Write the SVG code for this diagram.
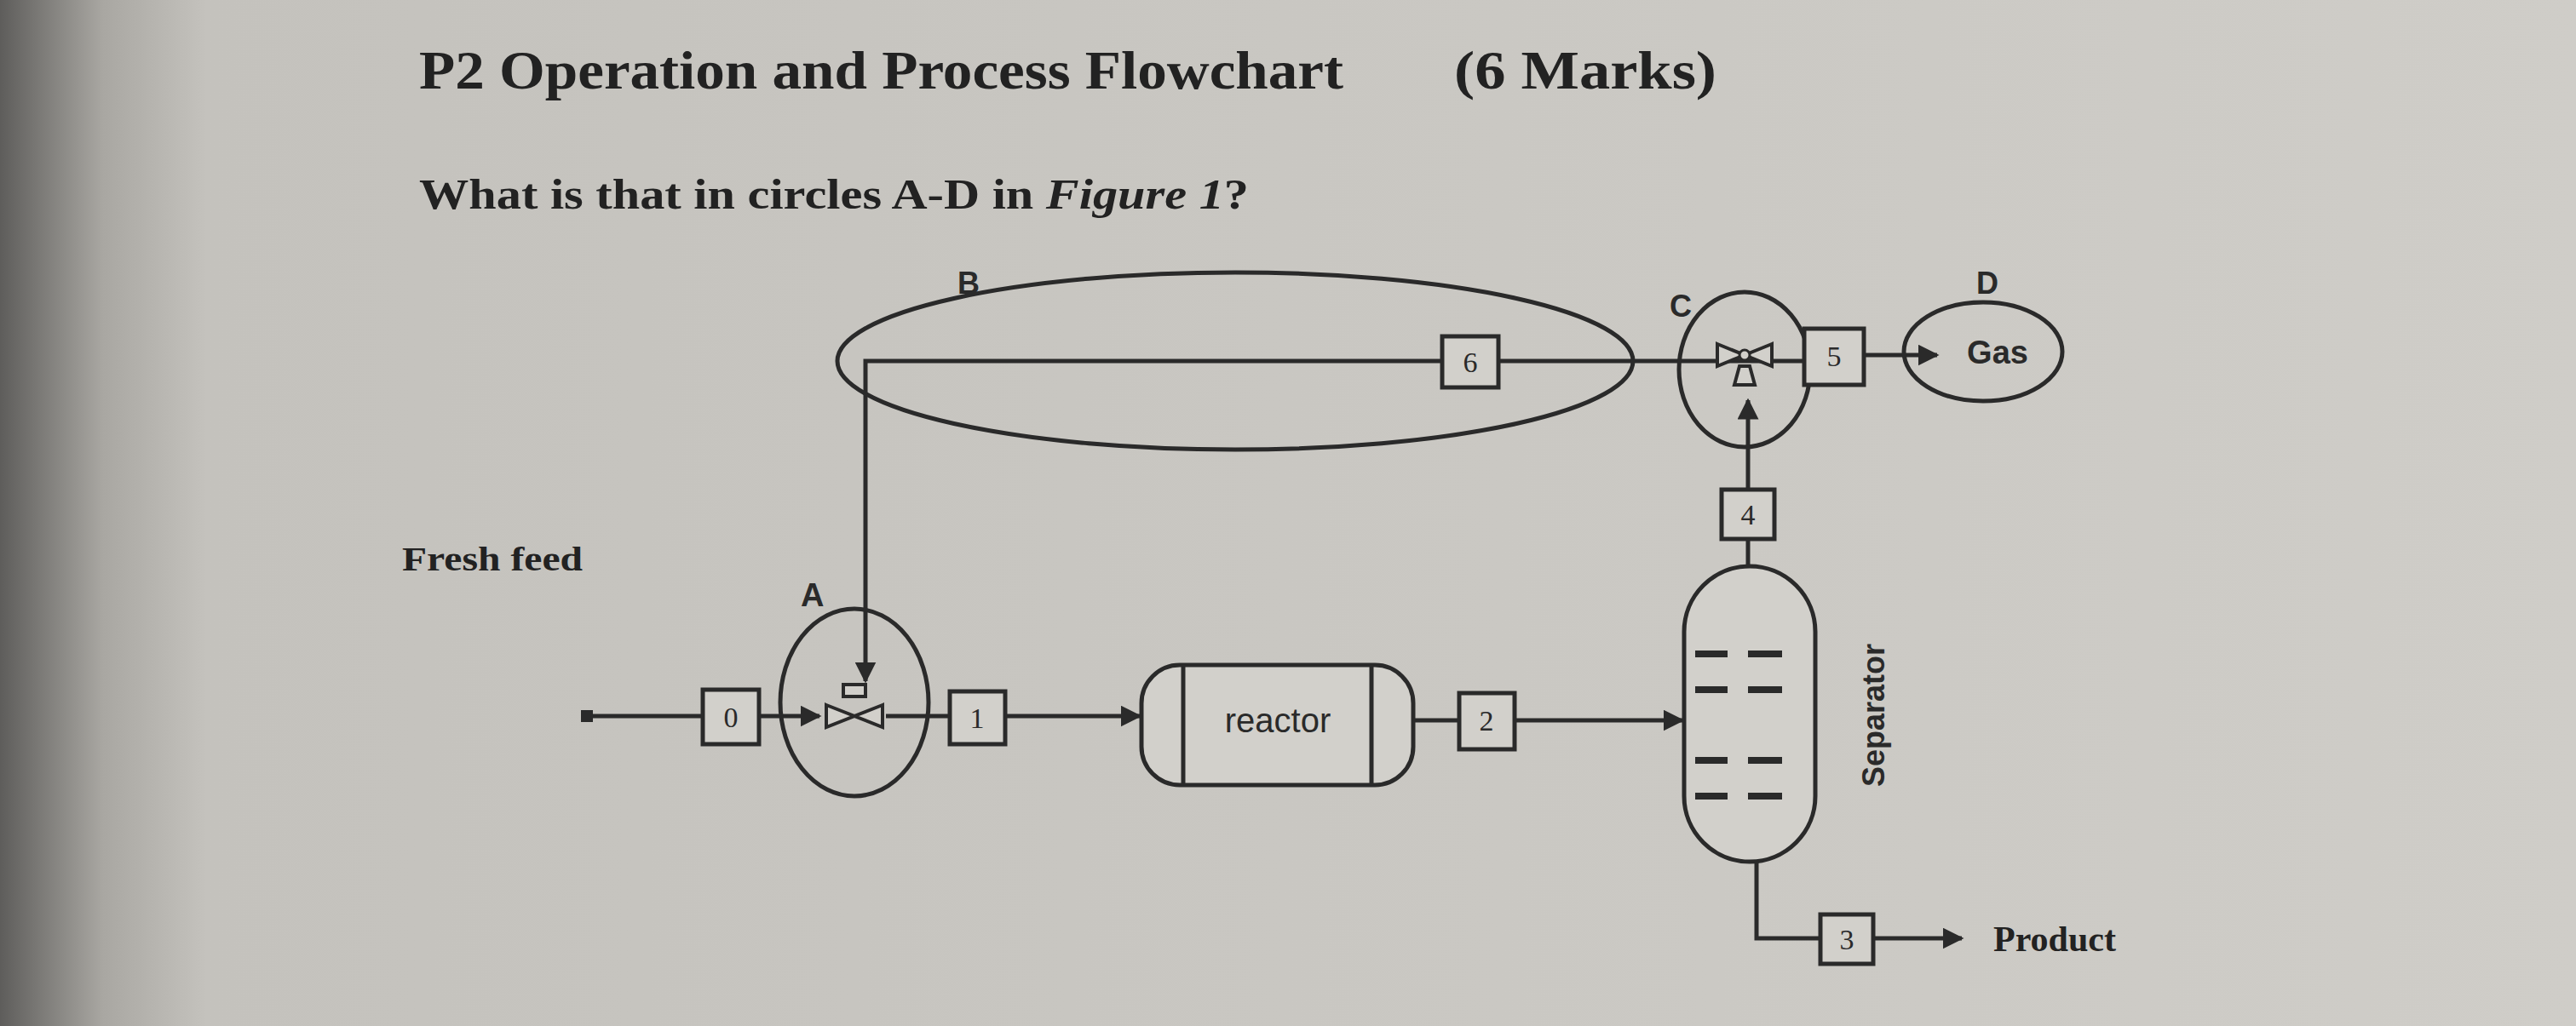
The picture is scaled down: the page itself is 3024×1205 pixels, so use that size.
<svg xmlns="http://www.w3.org/2000/svg" width="3024" height="1205" viewBox="0 0 3024 1205">
<defs>
<marker id="ah" viewBox="0 0 10 10" refX="9" refY="5" markerWidth="5" markerHeight="5" orient="auto"><path d="M0,0 L10,5 L0,10 z" fill="#2a2a2a"/></marker>
<linearGradient id="bg" x1="0" y1="0" x2="1" y2="0"><stop offset="0" stop-color="#5e5d5b"/><stop offset="0.04" stop-color="#a9a7a2"/><stop offset="0.08" stop-color="#c4c2bd"/><stop offset="1" stop-color="#cfcdc8"/></linearGradient>
</defs>
<style>
.ln{stroke:#2a2a2a;stroke-width:5;fill:none}
.bx{stroke:#2a2a2a;stroke-width:5;fill:#d2d0cb}
.n{font-family:"Liberation Serif",serif;font-size:34px;fill:#2a2a2a;text-anchor:middle}
.s{font-family:"Liberation Sans",sans-serif;fill:#2a2a2a}
.t{font-family:"Liberation Serif",serif;font-weight:bold;fill:#222}
</style>
<rect width="3024" height="1205" fill="url(#bg)"/>
<text class="t" x="492" y="104" font-size="64" textLength="1085" lengthAdjust="spacingAndGlyphs">P2 Operation and Process Flowchart</text>
<text class="t" x="1707" y="104" font-size="64" textLength="308" lengthAdjust="spacingAndGlyphs">(6 Marks)</text>
<text class="t" x="492" y="245" font-size="50" textLength="974" lengthAdjust="spacingAndGlyphs">What is that in circles A-D in <tspan font-style="italic">Figure 1</tspan>?</text>
<text class="t" x="472" y="670" font-size="40" font-weight="normal" textLength="212" lengthAdjust="spacingAndGlyphs">Fresh feed</text>
<g id="connectors">
<path class="ln" d="M1693,424 H1016 V800" marker-end="url(#ah)"/>
<path class="ln" d="M1759,424 H2118"/>
<path class="ln" d="M689,841 H825"/>
<path class="ln" d="M891,841 H962" marker-end="url(#ah)"/>
<path class="ln" d="M1040,841 H1115"/>
<path class="ln" d="M1180,841 H1338" marker-end="url(#ah)"/>
<path class="ln" d="M1659,846 H1713"/>
<path class="ln" d="M1778,846 H1975" marker-end="url(#ah)"/>
<path class="ln" d="M2052,665 V633"/>
<path class="ln" d="M2052,575 V470" marker-end="url(#ah)"/>
<path class="ln" d="M2189,417 H2274" marker-end="url(#ah)"/>
<path class="ln" d="M2062,1012 V1102 H2137"/>
<path class="ln" d="M2199,1102 H2303" marker-end="url(#ah)"/>
</g>
<rect x="682" y="834" width="14" height="14" fill="#2a2a2a"/>
<g id="B"><ellipse class="ln" cx="1450" cy="424" rx="467" ry="104"/><text class="s" x="1124" y="345" font-size="36" font-weight="bold">B</text></g>
<g id="box6"><rect class="bx" x="1693" y="395" width="66" height="60"/><text class="n" x="1726" y="437">6</text></g>
<g id="A"><ellipse class="ln" cx="1003" cy="825" rx="87" ry="110"/><text class="s" x="940" y="712" font-size="38" font-weight="bold">A</text>
<path d="M970,828 L1003,841 L970,854 z M1036,828 L1003,841 L1036,854 z M990,818 h26 v-14 h-26 z" fill="#d2d0cb" stroke="#2a2a2a" stroke-width="4"/></g>
<g id="box0"><rect class="bx" x="825" y="810" width="66" height="64"/><text class="n" x="858" y="854">0</text></g>
<g id="box1"><rect class="bx" x="1115" y="812" width="65" height="62"/><text class="n" x="1147" y="855">1</text></g>
<g id="reactor"><rect class="bx" x="1340" y="781" width="319" height="141" rx="45"/><path class="ln" d="M1389,781 V922 M1610,781 V922"/><text class="s" x="1500" y="860" font-size="40" text-anchor="middle">reactor</text></g>
<g id="box2"><rect class="bx" x="1713" y="814" width="65" height="66"/><text class="n" x="1745" y="858">2</text></g>
<g id="separator"><rect class="bx" x="1977" y="665" width="154" height="347" rx="77"/>
<path d="M1990,768 h38 M2052,768 h40 M1990,810 h38 M2052,810 h40 M1990,893 h38 M2052,893 h40 M1990,935 h38 M2052,935 h40" stroke="#2a2a2a" stroke-width="8"/>
<text class="s" transform="translate(2212,840) rotate(-90)" font-size="36" font-weight="bold" text-anchor="middle">Separator</text></g>
<g id="box4"><rect class="bx" x="2021" y="575" width="62" height="58"/><text class="n" x="2052" y="616">4</text></g>
<g id="C"><ellipse class="ln" cx="2048" cy="434" rx="77" ry="91"/><text class="s" x="1960" y="372" font-size="36" font-weight="bold">C</text>
<path d="M2016,404 L2048,417 L2016,430 z M2080,404 L2048,417 L2080,430 z M2036,452 h24 l-6,-22 h-12 z" fill="#d2d0cb" stroke="#2a2a2a" stroke-width="4"/><circle cx="2048" cy="417" r="6" fill="#d2d0cb" stroke="#2a2a2a" stroke-width="3"/></g>
<g id="box5"><rect class="bx" x="2118" y="386" width="70" height="66"/><text class="n" x="2153" y="430">5</text></g>
<g id="D"><ellipse class="ln" cx="2328" cy="413" rx="93" ry="58"/><text class="s" x="2345" y="427" font-size="38" font-weight="bold" text-anchor="middle">Gas</text><text class="s" x="2320" y="345" font-size="36" font-weight="bold">D</text></g>
<g id="box3"><rect class="bx" x="2137" y="1074" width="62" height="58"/><text class="n" x="2168" y="1115">3</text></g>
<text class="t" x="2340" y="1117" font-size="42">Product</text>
</svg>
